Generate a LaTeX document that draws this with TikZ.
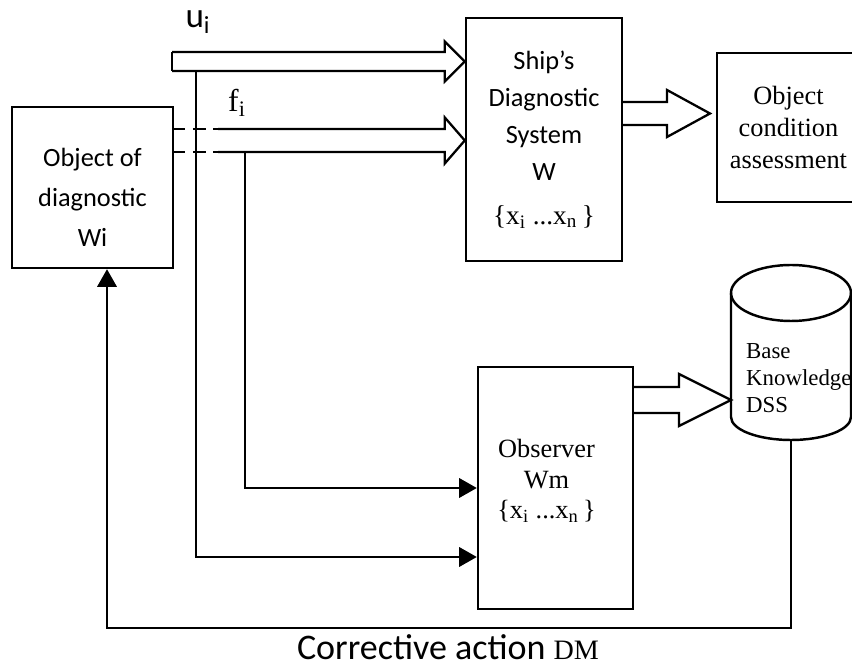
\documentclass[tikz,border=0pt]{standalone}
\usepackage{fontspec}
\setmainfont{Carlito}
\newfontfamily\tms{Liberation Serif}
\usetikzlibrary{arrows.meta, calc}

% hollow block arrow: start, tip, shaft half width, head half width, head length
\newcommand{\fatarrow}[5]{%
	\draw[fat] ($(#1)+(0,#3)$) -- ($(#2)+(-#5,#3)$) -- ($(#2)+(-#5,#4)$) -- (#2)
		-- ($(#2)+(-#5,-#4)$) -- ($(#2)+(-#5,-#3)$) -- ($(#1)+(0,-#3)$);}

\begin{document}
\begin{tikzpicture}[x=0.02cm, y=-0.02cm,
	box/.style={draw, line width=1.4pt, inner sep=0pt},
	conn/.style={line width=1.3pt},
	fat/.style={line width=1.3pt, line join=miter},
	tip/.style={-{Triangle[length=10pt, width=11pt]}},
	txt/.style={align=center, font=\fontsize{15}{21}\selectfont},
	serif/.style={align=center, font=\tms\fontsize{15}{18}\selectfont}]
	\useasboundingbox (0,0) rectangle (852,671);
	\clip (0,0) rectangle (852,671);

	\coordinate (uin) at (172,61.5);
	\coordinate (fin) at (218,140.5);
	\coordinate (fdash) at (173,140.5);
	\coordinate (ubr) at (196,71);
	\coordinate (fbr) at (245,152);
	\coordinate (otip) at (710,113.5);
	\coordinate (dbl) at (731,293);
	\coordinate (dbbot) at (791,440);
	\coordinate (fb) at (107,628);

	% blocks
	\node[box, minimum width=3.22cm, minimum height=3.22cm] (obj) at (92.5,187.5) {};
	\node[txt, font=\fontsize{15}{22.7}\selectfont] (objtxt) at ($(obj)+(0,10)$) {Object of\\diagnostic\\Wi};
	\node[box, txt, minimum width=3.12cm, minimum height=4.86cm] (sds) at (544,139.5)
		{Ship’s\\Diagnostic\\System\\W\\[4pt]{\tms\fontsize{15.5}{15.5}\selectfont\{x\textsubscript{i} ...x\textsubscript{n}\,\}}};
	\node[box, serif, minimum width=2.86cm, minimum height=2.98cm] (oca) at (788.5,127.5)
		{Object\\condition\\assessment};
	\node[box, minimum width=3.10cm, minimum height=4.84cm] (obs) at (555.5,488) {};
	\node[serif, font=\tms\fontsize{15}{17.5}\selectfont] (obstxt) at ($(obs)+(-9,-7)$)
		{Observer\\Wm\\\{x\textsubscript{i} ...x\textsubscript{n}\,\}};

	% data base
	\draw[line width=1.4pt] (791,293) ellipse [x radius=1.2cm, y radius=0.56cm];
	\draw[line width=1.4pt] (dbl) -- (731,417) arc[start angle=180, end angle=360, x radius=1.2cm, y radius=0.46cm] -- (851,293);
	\node[serif, align=left, anchor=west, font=\tms\fontsize{13}{15.5}\selectfont] (dbtxt) at (740,378) {Base\\Knowledge\\DSS};

	% signals
	\node[font=\fontsize{20}{20}\selectfont] (ulab) at (198,22) {u\textsubscript{i}};
	\node[font=\tms\fontsize{18}{18}\selectfont] (flab) at (237,103) {f\textsubscript{i}};

	\fatarrow{uin}{uin -| sds.west}{9.5}{20}{20}
	\draw[fat] ($(uin)+(0,9.5)$) -- ($(uin)+(0,-9.5)$);
	\fatarrow{fin}{fin -| sds.west}{11.5}{23}{20}
	\draw[fat, dash pattern=on 7pt off 4.5pt] ($(fdash)+(0,-11.5)$) -- ($(fin)+(0,-11.5)$);
	\draw[fat, dash pattern=on 7pt off 4.5pt] ($(fdash)+(0,11.5)$) -- ($(fin)+(0,11.5)$);
	\fatarrow{$(sds.east)+(0,-26)$}{otip}{11.5}{23.5}{43}
	\coordinate (oout) at ($(obs.east)+(0,-88)$);
	\fatarrow{oout}{oout -| dbl}{13}{26}{52}

	\draw[conn, tip] (fbr) |- (obs.west);
	\draw[conn, tip] (ubr) |- ($(obs.west)+(0,69)$);
	\draw[conn, tip] (dbbot) |- (fb) -- (fb |- obj.south);

	\node[inner sep=0pt, font=\fontsize{20.5}{20.5}\selectfont] (corr) at (448,647) {Corrective action {\tms\fontsize{16}{16}\selectfont DM}};

\end{tikzpicture}
\end{document}
